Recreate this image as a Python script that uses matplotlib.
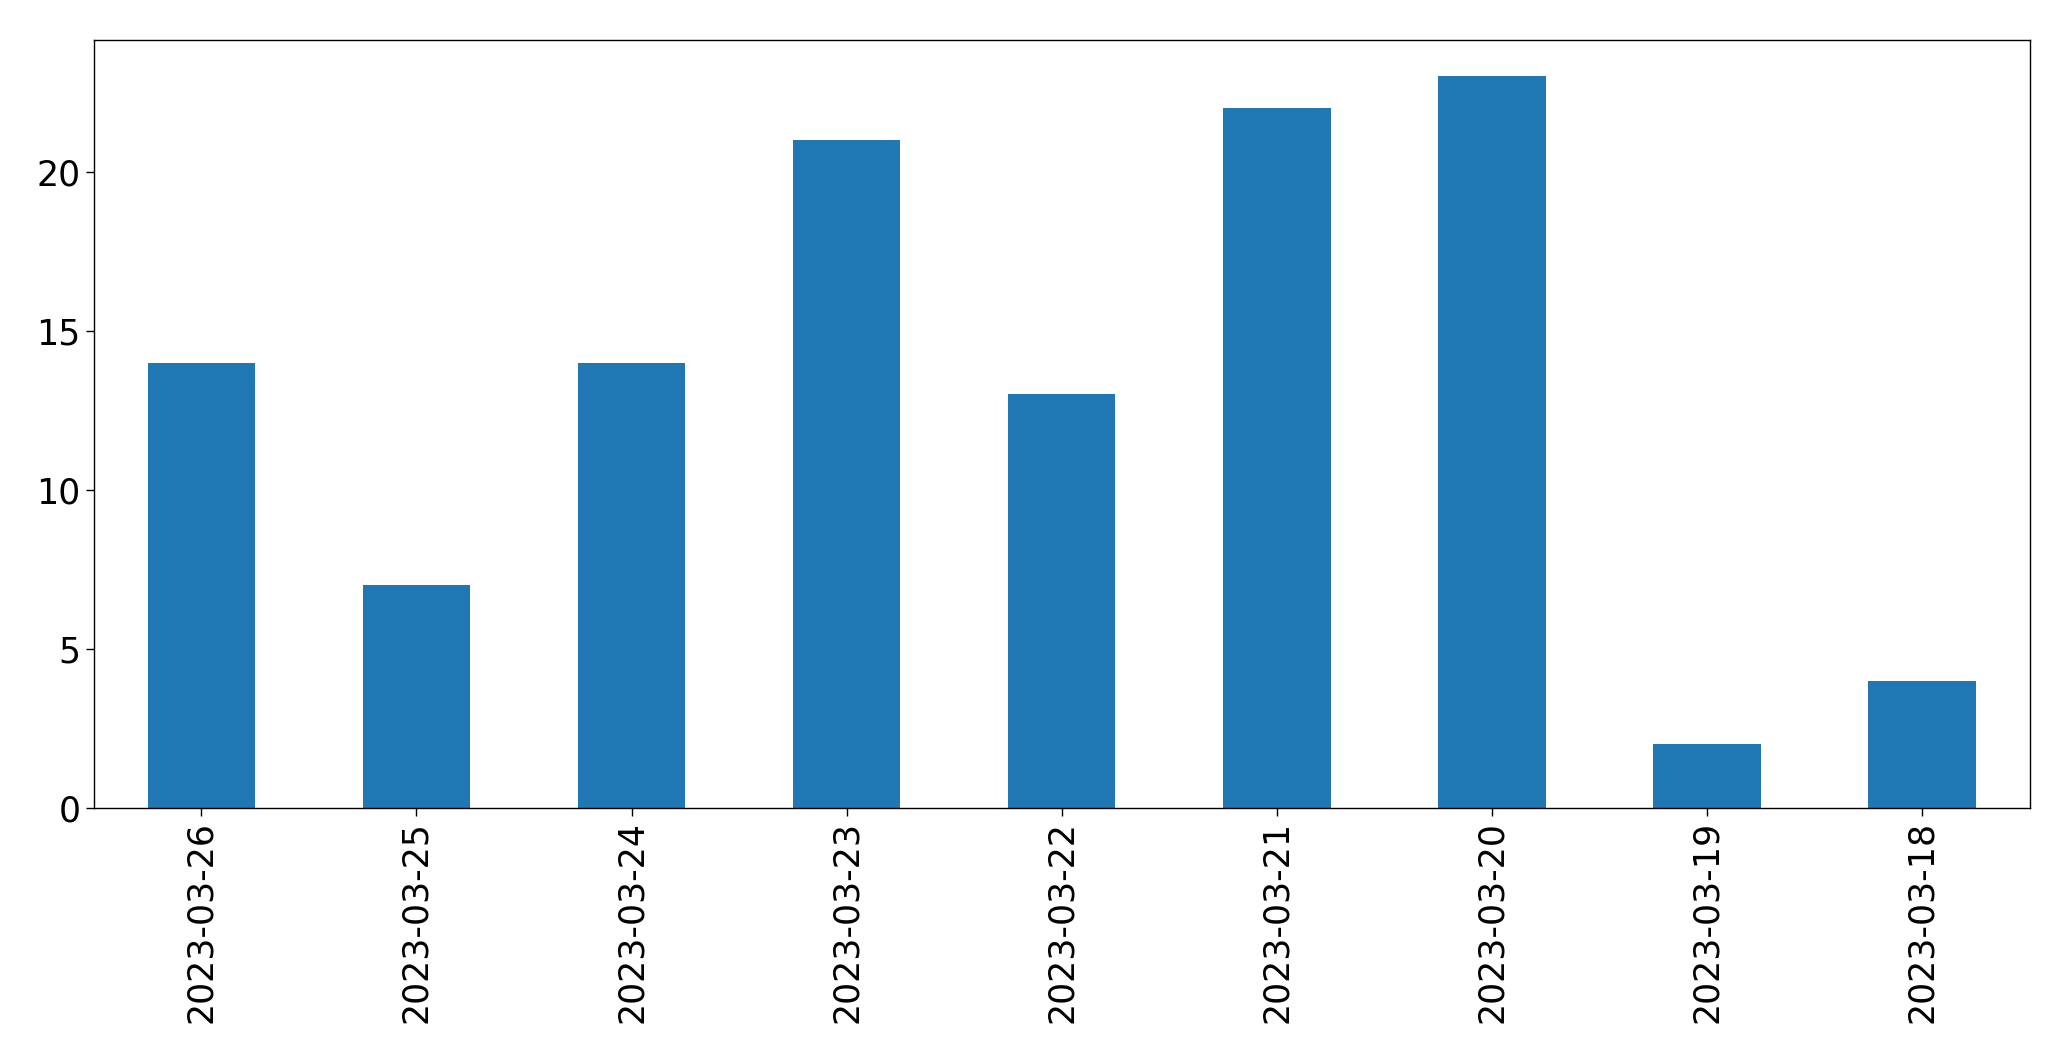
import matplotlib
matplotlib.use("Agg")
import matplotlib.pyplot as plt

dates = ["2023-03-26", "2023-03-25", "2023-03-24", "2023-03-23", "2023-03-22",
         "2023-03-21", "2023-03-20", "2023-03-19", "2023-03-18"]
counts = [14, 7, 14, 21, 13, 22, 23, 2, 4]

fig, ax = plt.subplots(figsize=(20.71, 10.61), dpi=100)
fig.subplots_adjust(left=0.0453, right=0.980, top=0.9627, bottom=0.2385)

x = range(len(dates))
ax.bar(x, counts, width=0.5, color="#1f77b4")
ax.set_xticks(list(x))
ax.set_xticklabels(dates, rotation=90)
ax.set_xlim(-0.5, len(dates) - 0.5)
ax.tick_params(labelsize=25, length=6, width=1.0)
for spine in ax.spines.values():
    spine.set_linewidth(1.0)

fig.savefig("out.png", dpi=100)
